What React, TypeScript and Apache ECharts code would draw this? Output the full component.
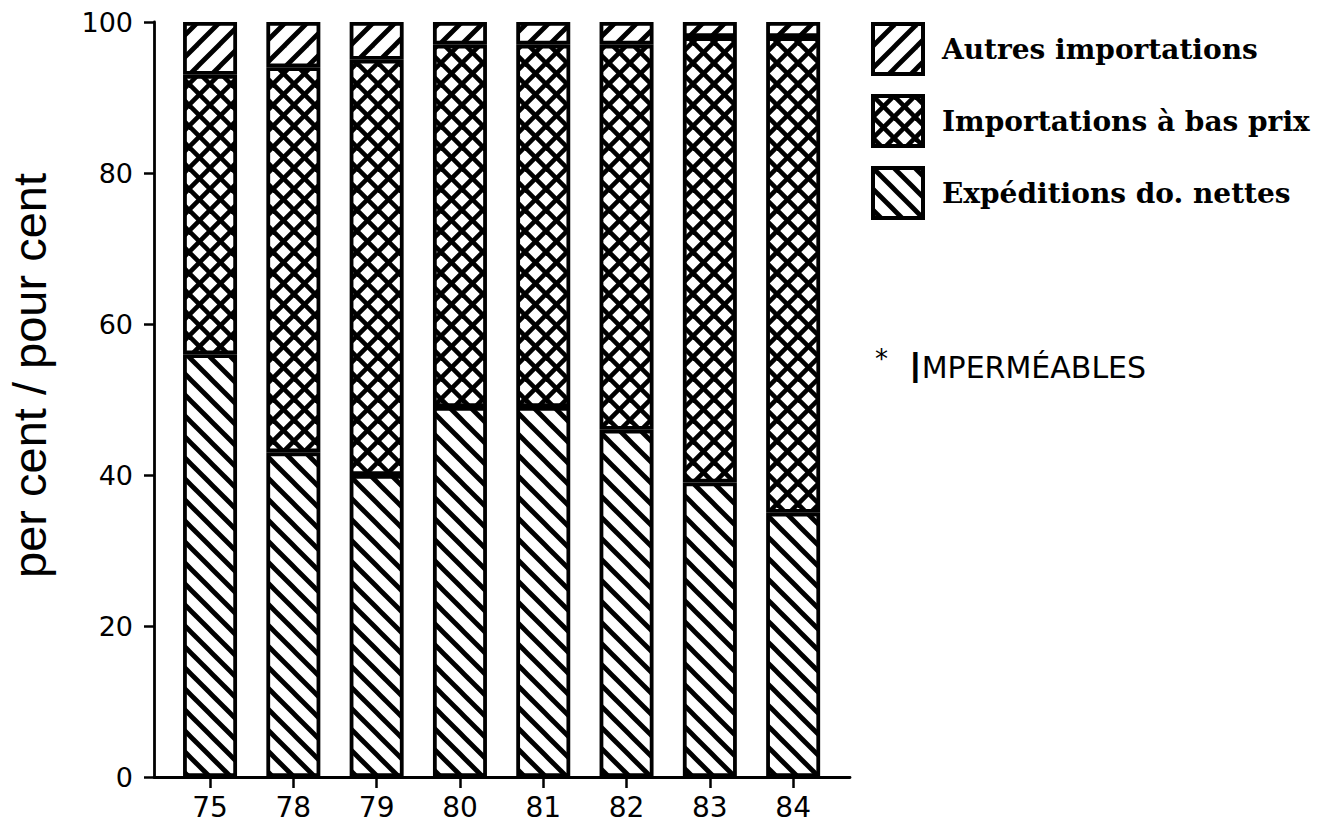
import React, { useEffect, useRef } from "react";
import * as echarts from "echarts";

const categories = ["75", "78", "79", "80", "81", "82", "83", "84"];
const expeditions = [56, 43, 40, 49, 49, 46, 39, 35];
const importationsBasPrix = [37, 51, 55, 48, 48, 51, 59, 63];
const autresImportations = [7, 6, 5, 3, 3, 3, 2, 2];
const yTicks = [0, 20, 40, 60, 80, 100];

const seriesNames = ["Expéditions do. nettes", "Importations à bas prix", "Autres importations"];

function makePattern(kind: "back" | "fwd" | "cross", size: number, lw: number) {
  const c = document.createElement("canvas");
  c.width = size;
  c.height = size;
  const ctx = c.getContext("2d")!;
  ctx.fillStyle = "#fff";
  ctx.fillRect(0, 0, size, size);
  ctx.strokeStyle = "#000";
  ctx.lineWidth = lw;
  ctx.lineCap = "square";
  for (const k of [-size, 0, size]) {
    if (kind === "back" || kind === "cross") {
      ctx.beginPath();
      ctx.moveTo(k, 0);
      ctx.lineTo(k + size, size);
      ctx.stroke();
    }
    if (kind === "fwd" || kind === "cross") {
      ctx.beginPath();
      ctx.moveTo(k, size);
      ctx.lineTo(k + size, 0);
      ctx.stroke();
    }
  }
  return { image: c, repeat: "repeat", imageWidth: size, imageHeight: size } as any;
}

export default function App() {
  const ref = useRef<HTMLDivElement>(null);
  useEffect(() => {
    if (!ref.current) return;
    const chart = echarts.init(ref.current, null, { renderer: "svg" });
    const pBack = makePattern("back", 21, 4.8);
    const pFwd = makePattern("fwd", 22, 4.8);
    const pCross = makePattern("cross", 21, 4.6);
    const border = { borderColor: "#000", borderWidth: 3.8 };
    const option: any = {
      animation: false,
      backgroundColor: "#fff",
      title: {
        text: "{star|*} {big|I}{small|MPERMÉABLES}",
        left: 875,
        top: 346,
        padding: 0,
        textStyle: {
          fontWeight: "normal",
          rich: {
            star: { fontFamily: "DejaVu Sans", fontSize: 26, fontWeight: "normal", color: "#000", verticalAlign: "top", padding: [0, 16, 0, 0] },
            big: { fontFamily: "DejaVu Sans", fontSize: 43, fontWeight: "normal", color: "#000" },
            small: { fontFamily: "DejaVu Sans", fontSize: 30, fontWeight: "normal", color: "#000" },
          },
        },
      },
      legend: {
        orient: "vertical",
        left: 871,
        top: 22,
        padding: 0,
        itemWidth: 50,
        itemHeight: 50,
        itemGap: 18,
        icon: "rect",
        data: [seriesNames[2], seriesNames[1], seriesNames[0]],
        itemStyle: { borderColor: "#000", borderWidth: 4 },
        textStyle: {
          fontFamily: "DejaVu Serif",
          fontWeight: "bold",
          fontSize: 28,
          color: "#000",
          padding: [0, 0, 0, 14],
        },
      },
      grid: [
        { left: 168.4, width: 666.4, top: 22, height: 755, outerBoundsMode: "none", containLabel: false },
        { left: 154, width: 696, top: 22, height: 755, outerBoundsMode: "none", containLabel: false },
      ],
      xAxis: [
        {
          type: "category",
          gridIndex: 0,
          data: categories,
          axisLine: { show: false },
          axisTick: { show: true, alignWithLabel: true, length: 11, lineStyle: { color: "#000", width: 2.5 } },
          axisLabel: { color: "#000", fontFamily: "DejaVu Sans", fontSize: 28, margin: 16, interval: 0 },
          splitLine: { show: false },
        },
        {
          type: "value",
          gridIndex: 1,
          min: 0,
          max: 1,
          axisLine: { show: true, lineStyle: { color: "#000", width: 2.8 } },
          axisTick: { show: false },
          axisLabel: { show: false },
          splitLine: { show: false },
        },
      ],
      yAxis: [
        {
          type: "value",
          gridIndex: 0,
          min: 0,
          max: 100,
          show: false,
          splitLine: { show: false },
        },
        {
          type: "value",
          gridIndex: 1,
          min: 0,
          max: 100,
          interval: 20,
          name: "per cent / pour cent",
          nameLocation: "middle",
          nameGap: 101,
          nameTextStyle: {
            fontFamily: "Liberation Sans",
            fontSize: 47,
            color: "#000",
            padding: [0, 0, 0, 48],
          },
          axisLine: { show: true, lineStyle: { color: "#000", width: 2.8 } },
          axisTick: { show: true, length: 10, lineStyle: { color: "#000", width: 2.5 } },
          axisLabel: {
            color: "#000",
            fontFamily: "DejaVu Sans",
            fontSize: 27,
            margin: 21,
            formatter: (v: number) => (yTicks.includes(v) ? String(v) : ""),
          },
          splitLine: { show: false },
        },
      ],
      series: [
        {
          name: seriesNames[0],
          type: "bar",
          stack: "total",
          xAxisIndex: 0,
          yAxisIndex: 0,
          barWidth: 54,
          data: expeditions,
          itemStyle: { color: pBack, ...border },
        },
        {
          name: seriesNames[1],
          type: "bar",
          stack: "total",
          xAxisIndex: 0,
          yAxisIndex: 0,
          barWidth: 54,
          data: importationsBasPrix,
          itemStyle: { color: pCross, ...border },
        },
        {
          name: seriesNames[2],
          type: "bar",
          stack: "total",
          xAxisIndex: 0,
          yAxisIndex: 0,
          barWidth: 54,
          data: autresImportations,
          itemStyle: { color: pFwd, ...border },
        },
      ],
    };
    chart.setOption(option);
    return () => chart.dispose();
  }, []);
  return (
    <div
      ref={ref}
      style={{ position: "fixed", left: 0, top: 0, width: 1335, height: 825, background: "#fff" }}
    />
  );
}
